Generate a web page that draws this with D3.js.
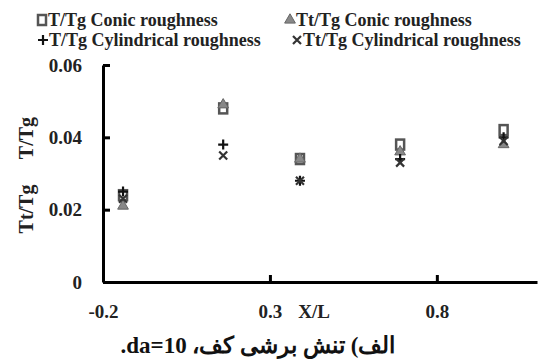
<!DOCTYPE html>
<html>
<head>
<meta charset="utf-8">
<script src="https://cdn.jsdelivr.net/npm/d3@7"></script>
<style>
  body { margin: 0; background: #fff; }
  svg { display: block; font-family: "Liberation Serif", "Times New Roman", serif; font-weight: bold; }
</style>
</head>
<body>
<div class="chart-container"></div>
<script>
(function() {
  // Data
  const xValues = [-0.14, 0.16, 0.39, 0.69, 1.0];
  const tConic = [0.024, 0.048, 0.034, 0.038, 0.042];
  const ttConic = [0.021, 0.049, 0.034, 0.036, 0.038];
  const tCylindrical = [0.025, 0.038, 0.028, 0.034, 0.040];
  const ttCylindrical = [0.023, 0.035, 0.028, 0.033, 0.039];
  const xTicks = [-0.2, 0.3, 0.8];
  const xTickLabels = ["-0.2", "0.3", "0.8"];
  const yTicks = [0, 0.02, 0.04, 0.06];
  const yTickLabels = ["0", "0.02", "0.04", "0.06"];

  const series = [
    { name: "T/Tg Conic roughness", values: tConic, symbol: "square" },
    { name: "Tt/Tg Conic roughness", values: ttConic, symbol: "triangle" },
    { name: "T/Tg Cylindrical roughness", values: tCylindrical, symbol: "plus" },
    { name: "Tt/Tg Cylindrical roughness", values: ttCylindrical, symbol: "cross" }
  ];

  // Chart
  const chartWidth = 559;
  const chartHeight = 360;
  const margin = { top: 65, right: 22, bottom: 78, left: 103 };

  const xScale = d3.scaleLinear().domain([-0.2, 1.1]).range([margin.left, chartWidth - margin.right]);
  const yScale = d3.scaleLinear().domain([0, 0.06]).range([chartHeight - margin.bottom, margin.top]);

  const svg = d3.select(".chart-container").append("svg")
    .attr("width", chartWidth)
    .attr("height", chartHeight)
    .attr("viewBox", [0, 0, chartWidth, chartHeight]);

  function drawMarker(g, type) {
    if (type === "square") {
      g.append("rect").attr("x", -4).attr("y", -5).attr("width", 8).attr("height", 10)
        .attr("fill", "none").attr("stroke", "#555").attr("stroke-width", 2.5);
    } else if (type === "triangle") {
      g.append("path").attr("d", d3.symbol(d3.symbolTriangle, 50)())
        .attr("fill", "#888").attr("stroke", "#666").attr("stroke-width", 1);
    } else if (type === "plus") {
      g.append("path").attr("d", "M-5,0H5M0,-5V5")
        .attr("stroke", "#111").attr("stroke-width", 2.2);
    } else {
      g.append("path").attr("d", "M-4,-4L4,4M-4,4L4,-4")
        .attr("stroke", "#333").attr("stroke-width", 2.2);
    }
  }

  // Axes
  const xAxis = g => g
    .attr("transform", `translate(0,${yScale(0)})`)
    .call(d3.axisBottom(xScale).tickValues(xTicks).tickSizeInner(-7).tickSizeOuter(0)
      .tickFormat((d, i) => xTickLabels[i]))
    .call(g => g.select(".domain").attr("stroke-width", 3))
    .call(g => g.selectAll(".tick line").attr("stroke-width", 3))
    .call(g => g.selectAll(".tick text").attr("y", 29).attr("dy", "0.35em")
      .attr("font-size", 19).attr("font-family", "Liberation Serif").attr("font-weight", "bold").attr("fill", "#222"));

  const yAxis = g => g
    .attr("transform", `translate(${xScale(-0.2)},0)`)
    .call(d3.axisLeft(yScale).tickValues(yTicks).tickSizeInner(-7).tickSizeOuter(0)
      .tickFormat((d, i) => yTickLabels[i]))
    .call(g => g.select(".domain").attr("stroke-width", 3))
    .call(g => g.selectAll(".tick line").attr("stroke-width", 3))
    .call(g => g.selectAll(".tick text").attr("x", -21)
      .attr("font-size", 19).attr("font-family", "Liberation Serif").attr("font-weight", "bold").attr("fill", "#222"));

  svg.append("g").call(yAxis);
  svg.append("g").call(xAxis);

  svg.append("text")
    .attr("x", 314).attr("y", yScale(0) + 29).attr("dy", "0.35em")
    .attr("text-anchor", "middle")
    .attr("font-size", 19)
    .attr("fill", "#222")
    .text("X/L");

  svg.append("text")
    .attr("transform", "translate(26,209) rotate(-90)")
    .attr("text-anchor", "middle").attr("dy", "0.35em")
    .attr("font-size", 20)
    .attr("fill", "#222")
    .text("Tt/Tg");
  svg.append("text")
    .attr("transform", "translate(26,138) rotate(-90)")
    .attr("text-anchor", "middle").attr("dy", "0.35em")
    .attr("font-size", 20)
    .attr("fill", "#222")
    .text("T/Tg");

  // Points
  series.forEach(s => {
    svg.append("g").selectAll("g")
      .data(s.values)
      .join("g")
      .attr("transform", (d, i) => `translate(${xScale(xValues[i])},${yScale(d)})`)
      .each(function() { drawMarker(d3.select(this), s.symbol); });
  });

  // Legend
  const legendPos = [[42, 20], [290, 20], [43, 40], [297, 40]];
  series.forEach((s, i) => {
    const lg = svg.append("g").attr("transform", `translate(${legendPos[i][0]},${legendPos[i][1]})`);
    drawMarker(lg, s.symbol);
    lg.append("text").attr("x", 6).attr("dy", "0.35em")
      .attr("font-size", 18).attr("fill", "#222").text(s.name);
  });

  // Caption
  svg.append("text")
    .attr("x", 258).attr("y", 353)
    .attr("text-anchor", "middle")
    .attr("direction", "rtl")
    .attr("font-size", 23)
    .attr("fill", "#111")
    .text("الف) تنش برشی کف، da=10.");
})();
</script>
</body>
</html>
